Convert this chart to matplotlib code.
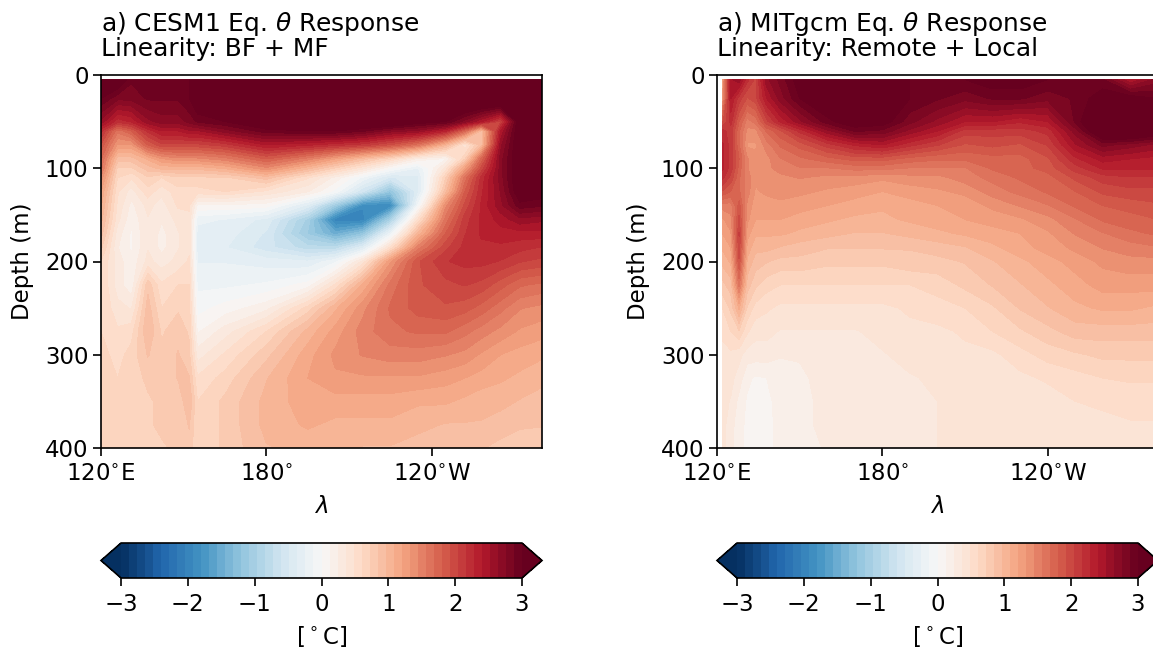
import numpy as np
import matplotlib
matplotlib.use("Agg")
import matplotlib.pyplot as plt

W, H = 1153, 652

depths = [5, 25, 50, 60, 75, 90, 100, 110, 125, 140, 155, 170, 185, 200, 225, 250, 275, 300, 325, 350, 375, 400]
cesm_lons = [120, 126, 131, 137, 142, 148, 152, 155, 165, 180, 195, 205, 215, 225, 235, 245, 252, 258, 265, 272, 280]
mit_lons = [122, 125, 128, 131, 134, 138, 143, 150, 160, 170, 180, 190, 200, 210, 220, 230, 240, 250, 260, 270, 280]

cesm_theta = [
    [3.2, 3.2, 2.9, 2.9, 2.9, 2.9, 3.0, 3.3, 3.3, 3.5, 3.5, 3.5, 3.5, 3.5, 3.5, 3.5, 3.5, 3.5, 3.5, 3.5, 3.5],
    [3.0, 2.8, 2.8, 2.9, 2.9, 2.9, 3.0, 3.2, 3.3, 3.5, 3.5, 3.5, 3.5, 3.5, 3.5, 3.5, 3.5, 3.5, 3.5, 3.5, 3.5],
    [2.6, 2.2, 2.3, 2.6, 2.7, 2.7, 2.8, 2.9, 3.0, 3.2, 3.3, 3.3, 3.3, 3.3, 3.1, 3.0, 2.7, 2.4, 2.0, 3.2, 3.3],
    [2.2, 1.6, 1.8, 2.2, 2.4, 2.4, 2.5, 2.5, 2.7, 2.95, 3.0, 3.0, 2.9, 2.7, 2.6, 2.3, 1.7, 0.9, 2.4, 3.2, 3.2],
    [1.9, 1.3, 1.3, 1.8, 2.0, 2.0, 2.0, 2.0, 2.1, 2.4, 2.3, 2.2, 2.1, 1.9, 1.6, 1.0, 0.4, 0.9, 2.6, 3.2, 3.3],
    [1.7, 0.9, 0.9, 1.1, 1.3, 1.4, 1.4, 1.4, 1.5, 1.8, 1.5, 1.2, 0.9, 0.6, 0.2, 0.1, 0.7, 1.7, 2.7, 3.2, 3.2],
    [1.6, 0.7, 0.7, 0.9, 1.0, 1.0, 1.0, 1.0, 1.1, 1.4, 1.0, 0.7, 0.4, 0.0, -0.25, 0.4, 1.2, 1.95, 2.7, 3.2, 3.2],
    [1.4, 0.6, 0.5, 0.7, 0.6, 0.7, 0.7, 0.7, 0.7, 0.9, 0.5, 0.2, -0.15, -0.5, -0.4, 0.7, 1.6, 2.2, 2.7, 3.2, 3.15],
    [1.2, 0.5, 0.3, 0.55, 0.4, 0.55, 0.55, 0.55, 0.6, 0.45, 0.25, -0.05, -0.6, -1.2, -0.4, 0.9, 1.8, 2.25, 2.65, 3.15, 3.1],
    [1.1, 0.45, 0.2, 0.4, 0.3, 0.5, 0.5, 0.1, 0.1, 0.05, -0.4, -1.1, -1.9, -1.9, -0.1, 1.4, 1.95, 2.3, 2.6, 2.95, 2.9],
    [1.0, 0.4, 0.15, 0.35, 0.25, 0.4, 0.45, -0.2, -0.25, -0.4, -1.0, -2.0, -2.0, -1.0, 0.5, 1.6, 2.1, 2.3, 2.45, 2.6, 2.55],
    [0.9, 0.3, 0.1, 0.35, 0.2, 0.35, 0.45, -0.3, -0.3, -0.5, -1.1, -1.5, -1.2, -0.2, 1.0, 1.8, 2.15, 2.3, 2.35, 2.35, 2.35],
    [0.75, 0.25, 0.1, 0.35, 0.2, 0.35, 0.45, -0.3, -0.35, -0.55, -0.8, -0.8, -0.4, 0.5, 1.5, 2.0, 2.2, 2.25, 2.25, 2.2, 2.15],
    [0.6, 0.3, 0.15, 0.4, 0.3, 0.4, 0.5, -0.25, -0.25, -0.3, -0.35, -0.15, 0.4, 1.3, 1.9, 2.15, 2.2, 2.2, 2.15, 2.05, 2.0],
    [0.6, 0.3, 0.15, 0.8, 0.5, 0.6, 0.6, -0.15, -0.15, -0.1, 0.05, 0.5, 1.1, 1.6, 1.9, 2.0, 2.05, 2.0, 1.85, 1.7, 1.65],
    [0.6, 0.4, 0.35, 0.9, 0.6, 0.7, 0.65, -0.05, 0.05, 0.2, 0.65, 1.05, 1.4, 1.7, 1.85, 1.9, 1.85, 1.75, 1.6, 1.45, 1.4],
    [0.6, 0.5, 0.55, 0.95, 0.7, 0.8, 0.7, 0.1, 0.3, 0.6, 1.0, 1.25, 1.5, 1.65, 1.7, 1.7, 1.6, 1.5, 1.4, 1.3, 1.25],
    [0.65, 0.55, 0.65, 0.85, 0.75, 0.85, 0.75, 0.3, 0.5, 0.8, 1.15, 1.35, 1.45, 1.5, 1.5, 1.45, 1.4, 1.3, 1.2, 1.15, 1.1],
    [0.65, 0.6, 0.65, 0.75, 0.75, 0.85, 0.85, 0.5, 0.65, 0.95, 1.2, 1.3, 1.3, 1.3, 1.3, 1.25, 1.2, 1.15, 1.1, 1.05, 1.0],
    [0.65, 0.6, 0.65, 0.7, 0.75, 0.75, 0.95, 0.6, 0.75, 1.0, 1.15, 1.15, 1.15, 1.15, 1.1, 1.1, 1.05, 1.0, 1.0, 0.95, 0.9],
    [0.65, 0.6, 0.65, 0.7, 0.75, 0.75, 0.85, 0.6, 0.75, 1.0, 1.1, 1.05, 1.05, 1.05, 1.0, 0.95, 0.95, 0.95, 0.9, 0.85, 0.85],
    [0.65, 0.6, 0.65, 0.7, 0.7, 0.75, 0.8, 0.6, 0.75, 0.95, 1.0, 1.0, 0.95, 0.95, 0.9, 0.9, 0.85, 0.85, 0.8, 0.8, 0.75],
]

mit_theta = [
    [1.2, 2.5, 2.6, 2.2, 2.0, 2.6, 2.8, 3.1, 3.3, 3.3, 3.1, 3.0, 3.0, 3.0, 3.1, 3.1, 3.0, 3.0, 2.9, 2.4, 2.7],
    [1.3, 2.4, 2.1, 1.9, 2.0, 2.4, 2.7, 3.0, 3.2, 3.2, 3.1, 3.0, 2.9, 2.8, 2.9, 2.9, 2.8, 2.9, 3.1, 3.1, 3.0],
    [1.9, 2.2, 1.8, 1.5, 1.6, 2.0, 2.3, 2.6, 2.95, 3.15, 3.1, 2.8, 2.6, 2.4, 2.4, 2.3, 2.4, 2.9, 3.4, 3.5, 3.4],
    [2.2, 2.1, 1.7, 1.4, 1.4, 1.7, 1.9, 2.2, 2.6, 2.9, 2.85, 2.6, 2.4, 2.1, 2.1, 2.1, 2.2, 2.7, 3.3, 3.4, 3.2],
    [2.3, 2.1, 1.7, 1.3, 1.3, 1.5, 1.7, 1.85, 2.1, 2.3, 2.4, 2.2, 2.05, 1.9, 1.95, 1.9, 2.05, 2.5, 2.8, 2.7, 2.6],
    [2.3, 2.1, 1.8, 1.45, 1.35, 1.4, 1.55, 1.65, 1.75, 1.85, 1.85, 1.75, 1.7, 1.7, 1.75, 1.75, 1.9, 2.25, 2.45, 2.4, 2.35],
    [2.3, 2.1, 1.75, 1.45, 1.35, 1.4, 1.5, 1.55, 1.55, 1.6, 1.6, 1.55, 1.55, 1.55, 1.7, 1.75, 1.85, 2.1, 2.3, 2.3, 2.3],
    [2.2, 2.0, 1.7, 1.5, 1.35, 1.4, 1.4, 1.45, 1.4, 1.4, 1.35, 1.4, 1.4, 1.5, 1.6, 1.7, 1.75, 1.95, 2.1, 2.15, 2.15],
    [1.9, 1.8, 1.7, 1.5, 1.3, 1.35, 1.35, 1.35, 1.3, 1.25, 1.2, 1.25, 1.3, 1.35, 1.5, 1.6, 1.7, 1.8, 1.95, 2.0, 2.0],
    [1.5, 1.5, 1.85, 1.4, 1.25, 1.25, 1.3, 1.25, 1.2, 1.15, 1.1, 1.15, 1.2, 1.25, 1.35, 1.45, 1.55, 1.7, 1.8, 1.85, 1.9],
    [1.3, 1.4, 1.95, 1.35, 1.2, 1.2, 1.2, 1.15, 1.1, 1.05, 1.05, 1.1, 1.15, 1.2, 1.25, 1.3, 1.4, 1.55, 1.7, 1.75, 1.8],
    [1.2, 1.3, 2.05, 1.25, 1.1, 1.1, 1.1, 1.05, 1.0, 0.95, 0.95, 1.0, 1.05, 1.1, 1.15, 1.2, 1.3, 1.45, 1.55, 1.65, 1.7],
    [1.1, 1.2, 2.0, 1.15, 1.0, 1.0, 0.95, 0.9, 0.85, 0.85, 0.85, 0.85, 0.9, 0.95, 1.05, 1.15, 1.25, 1.35, 1.45, 1.5, 1.55],
    [1.0, 1.1, 1.9, 1.05, 0.9, 0.85, 0.8, 0.8, 0.75, 0.75, 0.75, 0.8, 0.8, 0.85, 0.95, 1.05, 1.15, 1.25, 1.35, 1.4, 1.4],
    [0.8, 0.9, 1.6, 0.9, 0.75, 0.65, 0.6, 0.6, 0.6, 0.6, 0.6, 0.6, 0.65, 0.75, 0.85, 0.95, 1.05, 1.15, 1.25, 1.25, 1.25],
    [0.6, 0.75, 1.1, 0.7, 0.55, 0.5, 0.45, 0.45, 0.45, 0.45, 0.45, 0.5, 0.55, 0.6, 0.7, 0.85, 0.95, 1.05, 1.1, 1.1, 1.05],
    [0.5, 0.6, 0.7, 0.5, 0.4, 0.4, 0.35, 0.35, 0.35, 0.35, 0.4, 0.45, 0.45, 0.5, 0.6, 0.7, 0.8, 0.9, 0.9, 0.9, 0.9],
    [0.45, 0.45, 0.4, 0.3, 0.3, 0.3, 0.25, 0.25, 0.3, 0.3, 0.35, 0.4, 0.4, 0.45, 0.45, 0.55, 0.65, 0.7, 0.75, 0.75, 0.75],
    [0.4, 0.4, 0.3, 0.15, 0.1, 0.12, 0.18, 0.22, 0.28, 0.3, 0.33, 0.35, 0.38, 0.4, 0.42, 0.45, 0.5, 0.55, 0.6, 0.62, 0.62],
    [0.4, 0.35, 0.2, 0.1, 0.08, 0.1, 0.15, 0.2, 0.28, 0.3, 0.33, 0.35, 0.36, 0.38, 0.4, 0.4, 0.42, 0.48, 0.5, 0.52, 0.52],
    [0.4, 0.3, 0.15, 0.1, 0.08, 0.1, 0.14, 0.2, 0.28, 0.3, 0.33, 0.35, 0.36, 0.36, 0.38, 0.38, 0.38, 0.42, 0.45, 0.47, 0.47],
    [0.4, 0.28, 0.14, 0.1, 0.08, 0.1, 0.14, 0.2, 0.25, 0.3, 0.33, 0.35, 0.36, 0.36, 0.36, 0.36, 0.38, 0.4, 0.42, 0.43, 0.43],
]

titles = ["a) CESM1 Eq. $\\theta$ Response\nLinearity: BF + MF",
          "a) MITgcm Eq. $\\theta$ Response\nLinearity: Remote + Local"]
lon_ticks = [120, 180, 240]
lon_labels = ["120$^{\\circ}$E", "180$^{\\circ}$", "120$^{\\circ}$W"]
depth_ticks = [0, 100, 200, 300, 400]
cbar_ticks = [-3, -2, -1, 0, 1, 2, 3]

FS = 16.5
plt.rcParams["font.size"] = FS
plt.rcParams["axes.linewidth"] = 1.2
plt.rcParams["xtick.major.width"] = 1.2
plt.rcParams["ytick.major.width"] = 1.2
plt.rcParams["xtick.major.size"] = 5.5
plt.rcParams["ytick.major.size"] = 5.5

fig = plt.figure(figsize=(W / 100, H / 100), dpi=100)
levels = np.linspace(-3, 3, 51)


def rect(x0, y0, x1, y1):
    return [x0 / W, 1 - y1 / H, (x1 - x0) / W, (y1 - y0) / H]


panels = [(cesm_lons, cesm_theta, 101), (mit_lons, mit_theta, 717)]
for (lons, theta, left), title in zip(panels, titles):
    ax = fig.add_axes(rect(left, 75, left + 441, 448))
    cf = ax.contourf(lons, depths, np.array(theta), levels=levels,
                     cmap="RdBu_r", vmin=-3, vmax=3, extend="both")
    ax.set_xlim(120, 280)
    ax.set_ylim(400, 0)
    ax.set_xticks(lon_ticks)
    ax.set_xticklabels(lon_labels)
    ax.tick_params(axis="x", pad=5)
    ax.set_yticks(depth_ticks)
    ax.set_xlabel("$\\lambda$", labelpad=7)
    ax.set_ylabel("Depth (m)", labelpad=7.5)
    ax.set_title(title, loc="left", fontsize=17.9, pad=14, linespacing=0.95)

    cax = fig.add_axes(rect(left, 543, left + 441, 578))
    cb = fig.colorbar(cf, cax=cax, orientation="horizontal", extendfrac=0.05,
                      ticks=cbar_ticks, drawedges=False)
    cax.tick_params(axis="x", length=5.5, width=1.2, pad=5)
    cb.set_label("[$^\\circ$C]", labelpad=6)

fig.savefig("out.png", dpi=100)
